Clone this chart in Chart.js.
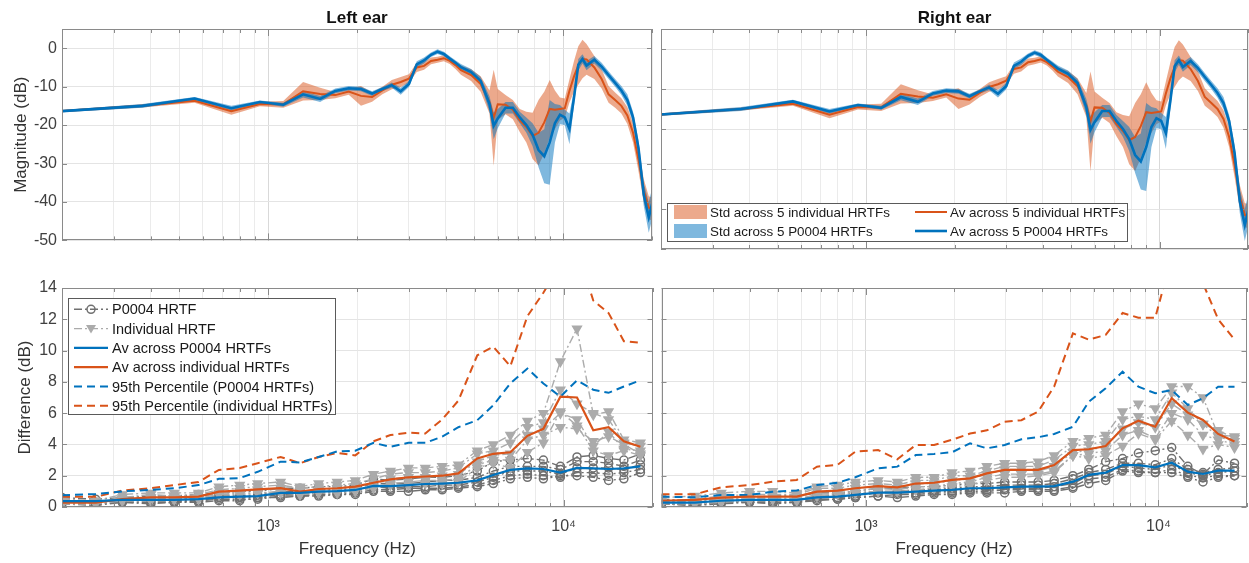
<!DOCTYPE html>
<html>
<head>
<meta charset="utf-8">
<title>HRTF magnitude and difference, left and right ear</title>
<script src="https://cdn.jsdelivr.net/npm/chart.js@4.4.0/dist/chart.umd.min.js"></script>
<style>
  html, body { margin: 0; padding: 0; background: #fff; }
  #wrap { position: relative; width: 1249px; height: 563px; overflow: hidden; }
  canvas { position: absolute; }
</style>
</head>
<body>
<div id="wrap">
  <canvas id="magLeft" width="655" height="255" style="left:0;top:0"></canvas>
  <canvas id="magRight" width="594" height="255" style="left:655px;top:0"></canvas>
  <canvas id="diffLeft" width="659" height="305" style="left:0;top:258px"></canvas>
  <canvas id="diffRight" width="598" height="305" style="left:655px;top:258px"></canvas>
</div>
<script>
// frequency bins of the magnitude curves (Hz)
var magFreq = [188, 375, 563, 750, 938, 1125, 1313, 1500, 1688, 1875, 2063, 2250, 2438, 2625, 2813,
  3000, 3188, 3375, 3563, 3750, 3938, 4125, 4313, 4500, 4875, 5250, 5625, 5813, 6000, 6375,
  6750, 7125, 7500, 7875, 8250, 8625, 9000, 9375, 9750, 10125, 10500, 10875, 11250, 11625, 12000,
  12750, 13500, 14250, 15000, 15750, 16500, 17250, 18000, 18750, 19500, 20250];

// left ear magnitude (dB)
var magAvIndivL = [-16.5, -15.0, -13.7, -16.4, -14.5, -14.6, -11.2, -11.9, -12.2, -11.3, -12.4, -12.7, -11.0, -9.5, -8.8,
  -7.9, -5.0, -4.6, -3.3, -3.0, -2.6, -3.3, -4.4, -5.7, -7.0, -9.3, -14.0, -18.1, -14.6, -14.7,
  -16.0, -18.8, -20.5, -22.8, -22.0, -19.3, -15.8, -16.0, -15.8, -15.6, -11.1, -7.4, -4.5, -2.8, -2.9,
  -5.0, -8.0, -12.0, -13.5, -15.0, -17.5, -22.0, -29.0, -37.0, -41.5, -42.0];
var magStdIndivL = [0.3, 0.4, 0.5, 0.9, 0.6, 0.9, 2.4, 1.6, 0.8, 0.8, 2.6, 1.2, 1.0, 1.2, 1.3,
  1.1, 1.2, 1.0, 0.9, 0.8, 0.8, 0.8, 1.0, 1.2, 1.5, 2.0, 3.0, 12.5, 4.0, 2.5,
  2.5, 3.0, 4.0, 6.0, 8.5, 8.0, 7.5, 5.0, 3.0, 2.5, 3.0, 4.0, 5.0, 5.0, 4.0,
  3.0, 2.5, 2.2, 2.0, 2.0, 2.2, 2.5, 3.0, 3.0, 3.0, 3.0];
var magAvP0004L = [-16.5, -15.0, -13.1, -15.6, -14.0, -14.7, -12.0, -13.2, -11.1, -10.4, -10.6, -11.8, -10.6, -9.6, -11.2,
  -9.3, -4.2, -3.2, -1.7, -0.9, -1.5, -2.7, -3.8, -4.9, -6.2, -8.5, -14.5, -20.2, -18.3, -15.5,
  -15.5, -18.0, -20.0, -22.5, -26.5, -28.1, -24.5, -19.5, -17.3, -18.0, -21.0, -13.0, -4.3, -2.8, -4.5,
  -3.0, -4.8, -7.0, -9.0, -11.0, -13.5, -18.0, -26.0, -38.0, -44.0, -39.0];
var magStdP0004L = [0.3, 0.5, 0.4, 0.6, 0.4, 0.5, 0.8, 0.8, 0.6, 0.6, 0.6, 0.6, 0.5, 0.7, 0.9,
  0.8, 0.8, 0.8, 0.6, 0.6, 0.6, 0.6, 0.7, 0.8, 0.8, 1.0, 2.0, 3.5, 2.5, 1.5,
  1.5, 1.5, 2.0, 3.0, 4.5, 7.0, 11.0, 5.0, 2.5, 2.0, 4.0, 2.0, 1.5, 1.2, 1.2,
  1.0, 1.0, 1.0, 1.0, 1.2, 1.5, 1.5, 2.0, 3.0, 4.0, 4.0];

// right ear magnitude (dB)
var magAvIndivR = [-16.5, -15.0, -13.7, -16.4, -14.5, -14.6, -11.2, -11.9, -12.2, -11.3, -12.4, -12.7, -11.0, -9.5, -8.8,
  -7.9, -5.0, -4.6, -3.3, -3.0, -2.6, -3.3, -4.4, -5.7, -7.0, -9.3, -14.0, -18.1, -14.6, -14.7,
  -16.0, -18.8, -20.5, -22.8, -22.0, -19.3, -15.8, -16.0, -15.8, -15.6, -11.1, -7.4, -4.5, -2.8, -2.9,
  -5.0, -8.0, -12.0, -13.5, -15.0, -17.5, -22.0, -29.0, -37.0, -41.5, -42.0];
var magStdIndivR = [0.3, 0.4, 0.5, 0.9, 0.6, 0.9, 2.4, 1.6, 0.8, 0.8, 2.6, 1.2, 1.0, 1.2, 1.3,
  1.1, 1.2, 1.0, 0.9, 0.8, 0.8, 0.8, 1.0, 1.2, 1.5, 2.0, 3.0, 12.5, 4.0, 2.5,
  2.5, 3.0, 4.0, 6.0, 8.5, 8.0, 7.5, 5.0, 3.0, 2.5, 3.0, 4.0, 5.0, 5.0, 4.0,
  3.0, 2.5, 2.2, 2.0, 2.0, 2.2, 2.5, 3.0, 3.0, 3.0, 3.0];
var magAvP0004R = [-16.5, -15.0, -13.1, -15.6, -14.0, -14.7, -12.0, -13.2, -11.1, -10.4, -10.6, -11.8, -10.6, -9.6, -11.2,
  -9.3, -4.2, -3.2, -1.7, -0.9, -1.5, -2.7, -3.8, -4.9, -6.2, -8.5, -14.5, -20.2, -18.3, -15.5,
  -15.5, -18.0, -20.0, -22.5, -26.5, -28.1, -24.5, -19.5, -17.3, -18.0, -21.0, -13.0, -4.3, -2.8, -4.5,
  -3.0, -4.8, -7.0, -9.0, -11.0, -13.5, -18.0, -26.0, -38.0, -44.0, -39.0];
var magStdP0004R = [0.3, 0.5, 0.4, 0.6, 0.4, 0.5, 0.8, 0.8, 0.6, 0.6, 0.6, 0.6, 0.5, 0.7, 0.9,
  0.8, 0.8, 0.8, 0.6, 0.6, 0.6, 0.6, 0.7, 0.8, 0.8, 1.0, 2.0, 3.5, 2.5, 1.5,
  1.5, 1.5, 2.0, 3.0, 4.5, 7.0, 11.0, 5.0, 2.5, 2.0, 4.0, 2.0, 1.5, 1.2, 1.2,
  1.0, 1.0, 1.0, 1.0, 1.2, 1.5, 1.5, 2.0, 3.0, 4.0, 4.0];

// band centre frequencies of the difference plots (Hz)
var bandFreq = [200, 260, 320, 400, 480, 580, 680, 800, 920, 1100, 1280, 1480, 1710, 1970, 2270, 2590,
  2980, 3400, 3880, 4400, 5100, 5780, 6600, 7540, 8540, 9750, 11100, 12600, 14200, 16000, 18200];

// left ear difference (dB)
var diffAvP0004L = [0.38, 0.38, 0.45, 0.45, 0.45, 0.5, 0.62, 0.66, 0.7, 0.9, 0.9, 0.98, 1.02, 1.09, 1.35, 1.34,
  1.4, 1.47, 1.5, 1.55, 1.7, 2.05, 2.37, 2.47, 2.43, 2.2, 2.5, 2.47, 2.43, 2.47, 2.6];
var diffAvIndivL = [0.28, 0.28, 0.5, 0.62, 0.62, 0.66, 0.98, 1.05, 1.13, 1.2, 0.98, 1.15, 1.2, 1.3, 1.55, 1.77,
  1.9, 1.95, 2.0, 2.15, 3.1, 3.4, 3.5, 4.55, 5.0, 7.05, 7.0, 4.9, 5.1, 4.2, 3.85];
var diffP95P0004L = [0.75, 0.83, 1.0, 1.1, 1.2, 1.4, 1.8, 1.85, 2.25, 2.9, 2.85, 3.2, 3.55, 3.6, 4.1, 3.85,
  4.1, 4.1, 4.5, 5.1, 5.55, 6.5, 7.9, 8.85, 7.9, 7.05, 8.1, 7.5, 7.3, 7.7, 8.1];
var diffP95IndivL = [0.65, 0.65, 1.05, 1.2, 1.4, 1.6, 2.37, 2.5, 2.8, 3.2, 2.8, 3.2, 3.45, 3.3, 4.2, 4.6,
  4.75, 4.7, 5.6, 6.8, 9.7, 10.25, 9.0, 12.2, 13.7, 15.5, 16.5, 13.2, 12.4, 10.6, 10.5];
var diffP0004EarsL = [
  [0.6, 0.5, 0.6, 0.7, 0.7, 0.8, 0.9, 1.0, 1.0, 1.2, 1.2, 1.3, 1.3, 1.4, 1.8, 1.7, 1.8, 1.9, 1.9, 2.0, 2.3, 2.9, 3.0, 3.1, 3.0, 2.6, 3.2, 3.3, 3.1, 3.0, 3.4],
  [0.4, 0.3, 0.5, 0.5, 0.5, 0.6, 0.7, 0.7, 0.8, 1.0, 1.0, 1.1, 1.1, 1.2, 1.5, 1.5, 1.5, 1.6, 1.7, 1.7, 1.9, 2.3, 2.6, 2.6, 2.6, 2.4, 2.9, 2.9, 2.8, 2.6, 3.0],
  [0.3, 0.2, 0.4, 0.4, 0.4, 0.4, 0.6, 0.6, 0.6, 0.8, 0.8, 0.9, 0.9, 1.0, 1.3, 1.2, 1.3, 1.3, 1.4, 1.4, 1.6, 1.9, 2.3, 2.3, 2.3, 2.1, 2.5, 2.5, 2.5, 2.4, 2.7],
  [0.2, 0.1, 0.3, 0.3, 0.3, 0.4, 0.5, 0.5, 0.5, 0.7, 0.7, 0.8, 0.8, 0.9, 1.1, 1.1, 1.2, 1.2, 1.2, 1.3, 1.4, 1.7, 2.0, 2.1, 2.0, 1.9, 2.2, 2.2, 2.1, 2.2, 2.4],
  [0.5, 0.2, 0.3, 0.2, 0.3, 0.3, 0.4, 0.4, 0.6, 0.6, 0.7, 0.7, 0.8, 0.8, 1.0, 1.0, 1.0, 1.1, 1.1, 1.2, 1.3, 1.5, 1.8, 1.9, 1.8, 2.0, 2.0, 1.9, 1.7, 1.8, 2.2]
];
var diffIndivEarsL = [
  [0.5, 0.4, 0.8, 0.9, 0.9, 0.9, 1.3, 1.4, 1.5, 1.6, 1.3, 1.5, 1.6, 1.7, 2.1, 2.3, 2.5, 2.5, 2.6, 2.7, 3.6, 4.0, 4.6, 5.5, 6.0, 9.3, 11.4, 5.9, 6.1, 4.3, 4.1],
  [0.3, 0.3, 0.6, 0.8, 0.7, 0.8, 1.1, 1.2, 1.3, 1.4, 1.2, 1.3, 1.4, 1.5, 1.8, 2.1, 2.2, 2.2, 2.3, 2.5, 3.4, 3.6, 4.1, 5.1, 5.4, 7.5, 6.6, 6.0, 5.6, 4.1, 3.9],
  [0.2, 0.2, 0.5, 0.6, 0.6, 0.6, 0.9, 1.0, 1.1, 1.2, 1.0, 1.1, 1.2, 1.3, 1.5, 1.8, 1.9, 1.9, 2.0, 2.1, 2.9, 3.3, 3.4, 4.6, 5.0, 6.0, 5.6, 3.9, 4.8, 3.7, 3.6],
  [0.4, 0.3, 0.4, 0.5, 0.5, 0.5, 0.8, 0.9, 0.9, 1.0, 0.8, 1.0, 1.0, 1.1, 1.3, 1.5, 1.6, 1.7, 1.7, 1.8, 2.7, 3.0, 3.0, 4.3, 4.6, 5.1, 5.0, 4.2, 4.5, 4.0, 3.4],
  [0.2, 0.2, 0.4, 0.4, 0.5, 0.6, 0.8, 0.8, 0.9, 0.9, 0.8, 0.9, 0.9, 1.0, 1.2, 1.4, 1.4, 1.5, 1.5, 1.6, 2.5, 2.8, 2.5, 3.5, 4.1, 6.1, 5.2, 3.6, 3.3, 3.6, 3.3]
];

// right ear difference (dB)
var diffAvP0004R = [0.28, 0.28, 0.4, 0.45, 0.45, 0.45, 0.62, 0.66, 0.77, 0.92, 0.92, 0.98, 1.05, 1.09, 1.2, 1.2,
  1.26, 1.3, 1.3, 1.34, 1.62, 2.05, 2.2, 2.68, 2.68, 2.54, 2.83, 2.26, 2.11, 2.32, 2.32];
var diffAvIndivR = [0.4, 0.45, 0.6, 0.66, 0.66, 0.66, 0.98, 1.05, 1.2, 1.34, 1.26, 1.5, 1.55, 1.73, 1.83, 2.15,
  2.37, 2.37, 2.37, 2.68, 3.64, 3.69, 3.9, 5.03, 5.52, 5.13, 6.95, 6.03, 5.56, 4.67, 4.18];
var diffP95P0004R = [0.66, 0.62, 0.77, 0.77, 0.98, 1.05, 1.4, 1.55, 1.9, 2.47, 2.58, 3.32, 3.39, 3.5, 4.07, 3.75,
  3.96, 4.33, 4.46, 4.67, 5.13, 6.73, 7.59, 8.65, 7.69, 7.27, 7.48, 6.52, 6.95, 7.69, 7.69];
var diffP95IndivR = [0.81, 0.81, 1.26, 1.4, 1.62, 1.73, 2.58, 2.7, 3.54, 3.64, 3.05, 3.96, 3.96, 4.3, 4.7, 4.9,
  5.45, 5.55, 6.1, 7.7, 11.1, 10.7, 11.0, 12.4, 12.1, 12.1, 16.0, 16.5, 14.3, 12.0, 10.7];
var diffP0004EarsR = [
  [0.5, 0.4, 0.6, 0.6, 0.7, 0.7, 0.9, 0.9, 1.0, 1.2, 1.2, 1.3, 1.3, 1.4, 1.5, 1.5, 1.6, 1.6, 1.6, 1.7, 2.0, 2.4, 2.9, 3.1, 3.45, 3.6, 3.8, 2.6, 2.1, 3.0, 2.8],
  [0.3, 0.3, 0.5, 0.5, 0.5, 0.5, 0.7, 0.8, 0.9, 1.0, 1.0, 1.1, 1.1, 1.2, 1.3, 1.3, 1.4, 1.4, 1.4, 1.5, 1.8, 2.2, 2.4, 2.8, 2.8, 2.7, 3.1, 2.4, 2.2, 2.4, 2.5],
  [0.2, 0.2, 0.3, 0.4, 0.4, 0.4, 0.6, 0.6, 0.7, 0.9, 0.9, 0.9, 1.0, 1.0, 1.1, 1.1, 1.2, 1.2, 1.2, 1.3, 1.5, 2.0, 2.1, 2.6, 2.5, 2.4, 2.7, 2.2, 2.0, 2.2, 2.3],
  [0.2, 0.1, 0.3, 0.3, 0.3, 0.3, 0.5, 0.5, 0.6, 0.7, 0.8, 0.8, 0.9, 0.9, 1.0, 1.0, 1.1, 1.1, 1.1, 1.1, 1.3, 1.8, 1.9, 2.4, 2.3, 2.2, 2.4, 2.0, 1.9, 2.0, 2.0],
  [0.2, 0.1, 0.2, 0.3, 0.2, 0.3, 0.4, 0.5, 0.6, 0.7, 0.6, 0.7, 0.8, 0.8, 0.9, 0.9, 0.9, 1.0, 1.0, 1.0, 1.2, 1.5, 1.7, 2.3, 2.2, 2.2, 2.2, 1.9, 1.6, 1.9, 2.0]
];
var diffIndivEarsR = [
  [0.6, 0.7, 0.9, 1.0, 1.0, 0.9, 1.3, 1.4, 1.6, 1.7, 1.6, 1.9, 1.9, 2.2, 2.3, 2.6, 2.8, 2.8, 2.9, 3.3, 4.2, 4.4, 4.6, 6.1, 6.6, 6.3, 7.7, 7.7, 7.0, 4.6, 4.5],
  [0.4, 0.5, 0.7, 0.8, 0.8, 0.8, 1.2, 1.2, 1.4, 1.5, 1.4, 1.7, 1.7, 2.0, 2.0, 2.3, 2.6, 2.6, 2.6, 3.0, 3.9, 4.0, 4.2, 5.6, 5.8, 5.6, 7.3, 6.3, 5.3, 4.9, 4.4],
  [0.3, 0.4, 0.6, 0.7, 0.6, 0.7, 1.0, 1.0, 1.2, 1.3, 1.2, 1.5, 1.5, 1.7, 1.8, 2.1, 2.4, 2.4, 2.3, 2.6, 3.5, 3.6, 3.9, 5.0, 5.4, 5.1, 6.6, 5.9, 5.3, 4.5, 4.2],
  [0.3, 0.3, 0.5, 0.5, 0.5, 0.5, 0.8, 0.9, 1.0, 1.2, 1.1, 1.3, 1.3, 1.5, 1.6, 1.9, 2.1, 2.1, 2.1, 2.3, 3.3, 3.4, 3.6, 4.6, 4.9, 4.4, 6.0, 5.6, 4.6, 4.3, 4.0],
  [0.2, 0.2, 0.3, 0.4, 0.5, 0.4, 0.7, 0.8, 0.9, 1.0, 1.0, 1.1, 1.2, 1.3, 1.4, 1.7, 1.9, 1.9, 2.0, 2.2, 3.3, 3.1, 3.3, 3.9, 4.7, 4.3, 5.5, 4.6, 3.7, 4.0, 3.8]
];

// log axis ticks and the ones that get a label
var logTicks = [200, 300, 400, 500, 600, 700, 800, 900, 1000, 2000, 3000, 4000, 5000, 6000, 7000, 8000, 9000, 10000, 20000];
var xTickLabels = { 1000: '10\u00b3', 10000: '10\u2074' };

var blue = '#0072BD', orange = '#D95319';
var blueBand = 'rgba(0,114,189,0.5)', orangeBand = 'rgba(217,83,25,0.5)';
var darkGray = '#707070', lightGray = '#ababab';
var fontFamily = '"Liberation Sans", Arial, Helvetica, sans-serif';

function pts(freq, vals) {
  return freq.map(function (f, i) { return { x: f, y: vals[i] }; });
}
function spread(freq, av, sd, sign) {
  return freq.map(function (f, i) { return { x: f, y: av[i] + sign * sd[i] }; });
}

function drawMarker(ctx, kind, x, y, color) {
  ctx.save();
  ctx.setLineDash([]);
  ctx.lineWidth = 1.5;
  ctx.strokeStyle = color;
  ctx.fillStyle = color;
  ctx.beginPath();
  if (kind === 'circle') {
    ctx.arc(x, y, 4, 0, Math.PI * 2);
    ctx.stroke();
  } else {
    ctx.moveTo(x - 5, y - 3.5);
    ctx.lineTo(x + 5, y - 3.5);
    ctx.lineTo(x, y + 5);
    ctx.closePath();
    ctx.fill();
  }
  ctx.restore();
}

// box round the axes, inward tick marks, legend
var frame = {
  id: 'frame',
  afterDraw: function (chart, args, opts) {
    var a = chart.chartArea, ctx = chart.ctx;
    var xs = chart.scales.x, ys = chart.scales.y;
    ctx.save();
    ctx.strokeStyle = '#8a8a8a';
    ctx.lineWidth = 1;
    ctx.beginPath();
    logTicks.forEach(function (t) {
      var px = Math.round(xs.getPixelForValue(t)) + 0.5;
      var len = (t === 1000 || t === 10000) ? 7 : 4;
      ctx.moveTo(px, a.top); ctx.lineTo(px, a.top + len);
      ctx.moveTo(px, a.bottom); ctx.lineTo(px, a.bottom - len);
    });
    ys.ticks.forEach(function (t) {
      if (t.label === null || t.label === undefined) return;
      var py = Math.round(ys.getPixelForValue(t.value)) + 0.5;
      ctx.moveTo(a.left, py); ctx.lineTo(a.left + 5, py);
      ctx.moveTo(a.right, py); ctx.lineTo(a.right - 5, py);
    });
    ctx.stroke();
    ctx.strokeRect(Math.round(a.left) + 0.5, Math.round(a.top) + 0.5,
      Math.round(a.right - a.left) - 1, Math.round(a.bottom - a.top) - 1);

    var lg = opts.legend;
    if (lg) {
      ctx.fillStyle = '#fff';
      ctx.fillRect(lg.x, lg.y, lg.w, lg.h);
      ctx.strokeStyle = '#5a5a5a';
      ctx.strokeRect(lg.x + 0.5, lg.y + 0.5, lg.w, lg.h);
      ctx.font = lg.font;
      ctx.textBaseline = 'middle';
      lg.items.forEach(function (it) {
        if (it.patch) {
          ctx.fillStyle = it.patch;
          ctx.fillRect(it.x0, it.y - 7, it.x1 - it.x0, 14);
        } else {
          ctx.strokeStyle = it.color;
          ctx.lineWidth = it.width;
          ctx.setLineDash(it.dash || []);
          ctx.beginPath();
          ctx.moveTo(it.x0, it.y);
          ctx.lineTo(it.x1, it.y);
          ctx.stroke();
          ctx.setLineDash([]);
          if (it.marker) drawMarker(ctx, it.marker, (it.x0 + it.x1) / 2, it.y, it.color);
        }
        ctx.fillStyle = '#1a1a1a';
        ctx.fillText(it.text, it.tx, it.y + 1);
      });
    }
    ctx.restore();
  }
};

function magDatasets(avI, sdI, avP, sdP) {
  var clear = 'rgba(0,0,0,0)';
  return [
    { data: pts(magFreq, avP), borderColor: blue, borderWidth: 2.6 },
    { data: pts(magFreq, avI), borderColor: orange, borderWidth: 2 },
    { data: spread(magFreq, avP, sdP, 1), borderColor: clear, borderWidth: 0, backgroundColor: blueBand, fill: 3 },
    { data: spread(magFreq, avP, sdP, -1), borderColor: clear, borderWidth: 0, backgroundColor: clear, fill: false },
    { data: spread(magFreq, avI, sdI, 1), borderColor: clear, borderWidth: 0, backgroundColor: orangeBand, fill: 5 },
    { data: spread(magFreq, avI, sdI, -1), borderColor: clear, borderWidth: 0, backgroundColor: clear, fill: false }
  ];
}

function grayLine(vals, circle) {
  var c = circle ? darkGray : lightGray;
  return {
    data: pts(bandFreq, vals),
    borderColor: c,
    borderWidth: 1.4,
    borderDash: [8, 3, 2, 3],
    pointStyle: circle ? 'circle' : 'triangle',
    pointRadius: circle ? 4 : 5,
    pointRotation: circle ? 0 : 180,
    pointBorderColor: c,
    pointBorderWidth: 1.5,
    pointBackgroundColor: circle ? 'rgba(0,0,0,0)' : c
  };
}

function diffDatasets(avP, avI, p95P, p95I, earsP, earsI) {
  var sets = [
    { data: pts(bandFreq, avP), borderColor: blue, borderWidth: 2.2 },
    { data: pts(bandFreq, avI), borderColor: orange, borderWidth: 2.2 },
    { data: pts(bandFreq, p95P), borderColor: blue, borderWidth: 2, borderDash: [8, 5] },
    { data: pts(bandFreq, p95I), borderColor: orange, borderWidth: 2, borderDash: [8, 5] }
  ];
  earsI.forEach(function (v) { sets.push(grayLine(v, false)); });
  earsP.forEach(function (v) { sets.push(grayLine(v, true)); });
  return sets;
}

function makeChart(id, cfg) {
  return new Chart(document.getElementById(id), {
    type: 'line',
    data: { datasets: cfg.datasets },
    options: {
      responsive: false,
      animation: false,
      events: [],
      layout: { padding: cfg.padding },
      elements: { line: { tension: 0 }, point: { radius: 0 } },
      plugins: {
        legend: { display: false },
        tooltip: { enabled: false },
        title: {
          display: !!cfg.title,
          text: cfg.title || '',
          fullSize: false,
          color: '#111',
          font: { family: fontFamily, size: 17, weight: 'bold' },
          padding: { top: 8, bottom: 0.6 }
        },
        frame: { legend: cfg.legend || null }
      },
      scales: {
        x: {
          type: 'logarithmic',
          min: 200,
          max: 20000,
          afterBuildTicks: function (s) {
            s.ticks = logTicks.map(function (v) { return { value: v }; });
          },
          afterFit: function (s) {
            s.height = cfg.xHeight;
            s.paddingLeft = 0;
            s.paddingRight = 0;
          },
          border: { display: false },
          grid: {
            drawTicks: false,
            color: function (c) {
              var v = c.tick ? c.tick.value : 0;
              return (v === 1000 || v === 10000) ? '#d9d9d9' : '#ebebeb';
            }
          },
          ticks: {
            display: cfg.showX,
            autoSkip: false,
            maxRotation: 0,
            padding: 10,
            color: '#404040',
            font: { family: fontFamily, size: 16 },
            callback: function (v) { return xTickLabels[v] || ''; }
          },
          title: {
            display: cfg.showX,
            text: 'Frequency (Hz)',
            color: '#333',
            font: { family: fontFamily, size: 17 },
            padding: { top: 0, bottom: 3 }
          }
        },
        y: {
          min: cfg.yMin,
          max: cfg.yMax,
          afterFit: function (s) { s.width = cfg.yWidth; },
          border: { display: false },
          grid: { drawTicks: false, color: '#e4e4e4' },
          ticks: {
            display: !!cfg.yTitle,
            stepSize: cfg.yStep,
            padding: 5,
            color: '#404040',
            font: { family: fontFamily, size: 16 },
            callback: function (v) { return v > cfg.yLast ? null : v; }
          },
          title: {
            display: !!cfg.yTitle,
            text: cfg.yTitle || '',
            color: '#333',
            font: { family: fontFamily, size: 17 },
            padding: { top: cfg.yTitlePad || 11, bottom: 0 }
          }
        }
      }
    },
    plugins: [frame]
  });
}

var magLegend = {
  x: 12, y: 203, w: 460, h: 38,
  font: '13.4px ' + fontFamily,
  items: [
    { patch: orangeBand, x0: 19, x1: 52, y: 212, tx: 55, text: 'Std across 5 individual HRTFs' },
    { patch: blueBand, x0: 19, x1: 52, y: 231, tx: 55, text: 'Std across 5 P0004 HRTFs' },
    { color: orange, width: 2, x0: 260, x1: 292, y: 212, tx: 295, text: 'Av across 5 individual HRTFs' },
    { color: blue, width: 2.6, x0: 260, x1: 292, y: 231, tx: 295, text: 'Av across 5 P0004 HRTFs' }
  ]
};

var diffLegend = {
  x: 68, y: 40, w: 267, h: 116,
  font: '14.5px ' + fontFamily,
  items: [
    { color: darkGray, width: 1.4, dash: [8, 3, 2, 3], marker: 'circle', x0: 74, x1: 108, y: 51.3, tx: 112, text: 'P0004 HRTF' },
    { color: lightGray, width: 1.4, dash: [8, 3, 2, 3], marker: 'triangle', x0: 74, x1: 108, y: 70.6, tx: 112, text: 'Individual HRTF' },
    { color: blue, width: 2.2, x0: 74, x1: 108, y: 89.9, tx: 112, text: 'Av across P0004 HRTFs' },
    { color: orange, width: 2.2, x0: 74, x1: 108, y: 109.2, tx: 112, text: 'Av across individual HRTFs' },
    { color: blue, width: 2, dash: [8, 5], x0: 74, x1: 108, y: 128.5, tx: 112, text: '95th Percentile (P0004 HRTFs)' },
    { color: orange, width: 2, dash: [8, 5], x0: 74, x1: 108, y: 147.8, tx: 112, text: '95th Percentile (individual HRTFs)' }
  ]
};

makeChart('magLeft', {
  datasets: magDatasets(magAvIndivL, magStdIndivL, magAvP0004L, magStdP0004L),
  title: 'Left ear', yTitle: 'Magnitude (dB)', yTitlePad: 11,
  yMin: -50, yMax: 5, yStep: 10, yLast: 0,
  yWidth: 62, xHeight: 6, showX: false,
  padding: { left: 0, right: 3, top: 0, bottom: 0 }
});
makeChart('magRight', {
  datasets: magDatasets(magAvIndivR, magStdIndivR, magAvP0004R, magStdP0004R),
  title: 'Right ear',
  yMin: -50, yMax: 5, yStep: 10, yLast: 0,
  yWidth: 6, xHeight: 6, showX: false,
  padding: { left: 0, right: 1, top: 0, bottom: 0 },
  legend: magLegend
});
makeChart('diffLeft', {
  datasets: diffDatasets(diffAvP0004L, diffAvIndivL, diffP95P0004L, diffP95IndivL, diffP0004EarsL, diffIndivEarsL),
  yTitle: 'Difference (dB)', yTitlePad: 15,
  yMin: 0, yMax: 14, yStep: 2, yLast: 14,
  yWidth: 62, xHeight: 56, showX: true,
  padding: { left: 0, right: 3, top: 30, bottom: 0 },
  legend: diffLegend
});
makeChart('diffRight', {
  datasets: diffDatasets(diffAvP0004R, diffAvIndivR, diffP95P0004R, diffP95IndivR, diffP0004EarsR, diffIndivEarsR),
  yMin: 0, yMax: 14, yStep: 2, yLast: 14,
  yWidth: 6, xHeight: 56, showX: true,
  padding: { left: 0, right: 1, top: 30, bottom: 0 }
});
</script>
</body>
</html>
